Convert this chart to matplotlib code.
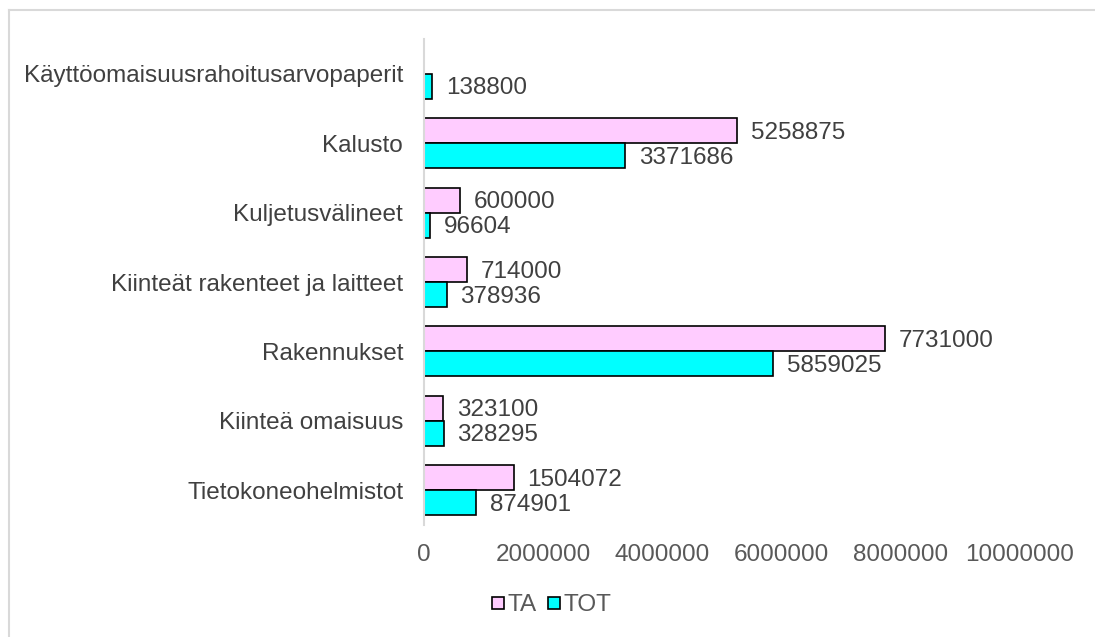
import numpy as np
import matplotlib.pyplot as plt
from matplotlib.lines import Line2D

# Tiedot (ylhäältä alas)
categories = ['Käyttöomaisuusrahoitusarvopaperit', 'Kalusto', 'Kuljetusvälineet',
              'Kiinteät rakenteet ja laitteet', 'Rakennukset', 'Kiinteä omaisuus',
              'Tietokoneohelmistot']
ta = [0, 5258875, 600000, 714000, 7731000, 323100, 1504072]
tot = [138800, 3371686, 96604, 378936, 5859025, 328295, 874901]
xticks = [0, 2000000, 4000000, 6000000, 8000000, 10000000]

fs = 17.5
plt.rcParams['font.family'] = ['Liberation Sans', 'DejaVu Sans']
fig = plt.figure(figsize=(10.95, 6.37), dpi=100)
ax = fig.add_axes([424/1095, 1 - 525/637, (1020 - 424)/1095, (525 - 39)/637])

y = np.arange(len(categories))
h = 0.36
b1 = ax.barh(y - h/2, ta, height=h, color='#FFCCFF', edgecolor='black', linewidth=1.2)
b2 = ax.barh(y + h/2, tot, height=h, color='#00FFFF', edgecolor='black', linewidth=1.2)

for bars, vals in ((b1, ta), (b2, tot)):
    for bar, v in zip(bars, vals):
        if v == 0:
            continue
        ax.annotate(str(v), (v, bar.get_y() + bar.get_height()/2), xytext=(10, -1.5),
                    textcoords='offset points', va='center', ha='left',
                    fontsize=fs, color='#404040')

ax.set_xlim(0, 10000000)
ax.set_ylim(len(categories) - 0.5, -0.5)
ax.set_yticks(y)
ax.set_yticklabels(categories, fontsize=fs, color='#404040')
ax.set_xticks(xticks)
ax.set_xticklabels([str(t) for t in xticks], fontsize=fs, color='#595959')
ax.tick_params(length=0, pad=14)
ax.tick_params(axis='y', pad=15)
for s in ['top', 'right', 'bottom']:
    ax.spines[s].set_visible(False)
ax.spines['left'].set_color('#D9D9D9')
ax.spines['left'].set_linewidth(1.5)

handles = [Line2D([], [], marker='s', linestyle='', markersize=9, markerfacecolor='#FFCCFF',
                  markeredgecolor='black', markeredgewidth=1.2),
           Line2D([], [], marker='s', linestyle='', markersize=9, markerfacecolor='#00FFFF',
                  markeredgecolor='black', markeredgewidth=1.2)]
leg = fig.legend(handles, ['TA', 'TOT'], loc='center', bbox_to_anchor=(550/1095, 1 - 605/637),
                 ncol=2, frameon=False, fontsize=fs, handletextpad=0.0,
                 columnspacing=0.3, handlelength=0.8)
for t in leg.get_texts():
    t.set_color('#595959')

# Kehys
fig.add_artist(Line2D([9/1095, 9/1095], [0, 1 - 10/637], color='#D9D9D9', lw=1.5))
fig.add_artist(Line2D([9/1095, 1], [1 - 10/637, 1 - 10/637], color='#D9D9D9', lw=1.5))

fig.savefig('out.png', dpi=100)
